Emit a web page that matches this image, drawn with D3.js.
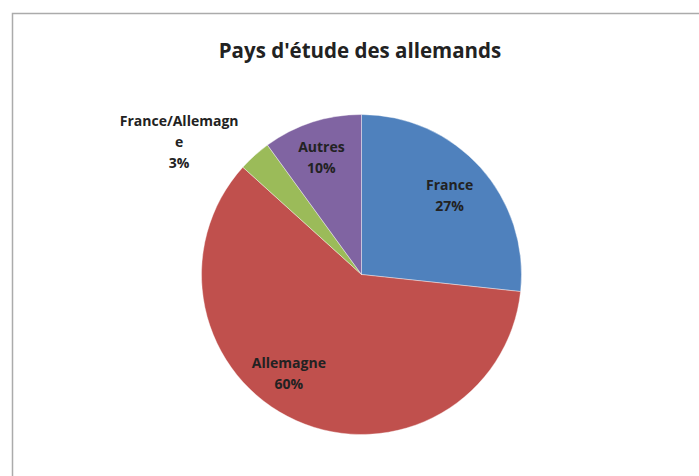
<!DOCTYPE html>
<html>
<head>
<meta charset="utf-8">
<script src="https://cdn.jsdelivr.net/npm/d3@7"></script>
<style>
  body { margin: 0; background: #fff; }
  svg { display: block; font-family: "Open Sans", Lato, sans-serif; }
</style>
</head>
<body>
<div id="app"></div>
<script>
const categories = ["France", "Allemagne", "France/Allemagne", "Autres"];
const shares = [26.7, 60.0, 3.3, 10.0];
const percentLabels = ["27%", "60%", "3%", "10%"];
const colors = ["#4F81BD", "#C0504D", "#9BBB59", "#8064A2"];

const width = 699, height = 476;
const cx = 361.5, cy = 274.5, r = 160;
const labelSize = 14;

// where Excel's "best fit" put each label: radius factor + angle nudge (deg)
const labelPlace = [
  { k: 0.74, turn: 0 },
  { k: 0.77, turn: 12 },
  { k: 1.41, turn: -12 },
  { k: 0.77, turn: -1 }
];

const svg = d3.select("#app").append("svg")
  .attr("width", width).attr("height", height);

// chart frame (runs off the right and bottom edge)
svg.append("rect")
  .attr("x", 12.5).attr("y", 13.5)
  .attr("width", 720).attr("height", 500)
  .attr("fill", "#fff")
  .attr("stroke", "#ababab")
  .attr("stroke-width", 1.5);

svg.append("text")
  .attr("x", 360).attr("y", 58)
  .attr("text-anchor", "middle")
  .attr("font-size", 20.5).attr("font-weight", "bold")
  .attr("fill", "#222")
  .text("Pays d'étude des allemands");

const pie = d3.pie().sort(null).value(d => d.v);
const data = pie(categories.map((c, i) => ({ c, v: shares[i], p: percentLabels[i], col: colors[i], i })));
const arc = d3.arc().innerRadius(0).outerRadius(r);

const g = svg.append("g").attr("transform", `translate(${cx},${cy})`);

g.selectAll("path")
  .data(data)
  .enter()
  .append("path")
  .attr("d", arc)
  .attr("fill", d => d.data.col)
  .attr("stroke", "#fff")
  .attr("stroke-width", 0.4);

// break a label by characters when it is too wide, like Excel does
const wrapChars = (text, maxW) => {
  const probe = svg.append("text").attr("font-size", labelSize).attr("font-weight", "bold");
  let lines = [], cur = "";
  for (const ch of text) {
    probe.text(cur + ch);
    if (cur && probe.node().getComputedTextLength() > maxW) {
      lines.push(cur);
      cur = ch;
    } else cur += ch;
  }
  lines.push(cur);
  probe.remove();
  return lines;
};

g.selectAll("text.lbl")
  .data(data)
  .enter()
  .append("text")
  .attr("class", "lbl")
  .attr("text-anchor", "middle")
  .attr("font-size", labelSize).attr("font-weight", "bold")
  .attr("fill", "#222")
  .each(function(d) {
    const pl = labelPlace[d.data.i];
    const a = (d.startAngle + d.endAngle) / 2 + pl.turn * Math.PI / 180;
    const rr = r * pl.k;
    const x = rr * Math.sin(a), y = -rr * Math.cos(a);
    const lines = wrapChars(d.data.c, 124).concat([d.data.p]);
    const lh = 21;
    const y0 = y - (lines.length - 1) * lh / 2;
    const t = d3.select(this);
    lines.forEach((ln, j) => {
      t.append("tspan")
        .attr("x", x)
        .attr("y", y0 + j * lh)
        .attr("dy", "0.35em")
        .text(ln);
    });
  });
</script>
</body>
</html>
